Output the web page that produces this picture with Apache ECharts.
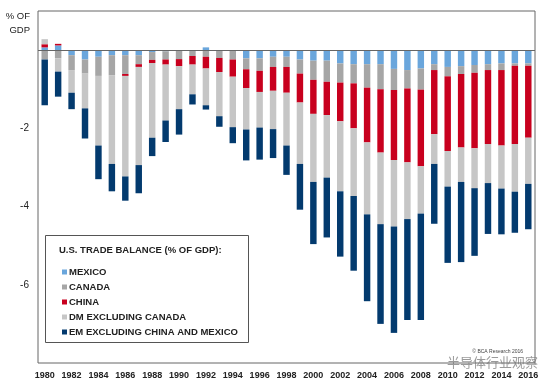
<!DOCTYPE html>
<html><head><meta charset="utf-8">
<script src="https://cdn.jsdelivr.net/npm/echarts@6/dist/echarts.min.js"></script>
<style>html,body{margin:0;padding:0;background:#fff}#c{width:554px;height:388px}</style>
</head><body><div id="c"></div>
<script>
var years = [];
for (var y = 1980; y <= 2016; y++) years.push(String(y));
var mexico = [0.07, 0.12, -0.13, -0.24, -0.17, -0.13, -0.13, -0.13, -0.05, -0.03, -0.02, 0, 0.07, -0.02, -0.02, -0.21, -0.21, -0.17, -0.17, -0.24, -0.27, -0.27, -0.34, -0.36, -0.36, -0.36, -0.48, -0.51, -0.47, -0.36, -0.43, -0.41, -0.38, -0.36, -0.34, -0.34, -0.34];
var canada = [-0.24, -0.21, -0.38, -0.36, -0.49, -0.51, -0.48, -0.23, -0.20, -0.21, -0.21, -0.15, -0.17, -0.18, -0.22, -0.28, -0.32, -0.26, -0.26, -0.36, -0.49, -0.54, -0.49, -0.49, -0.60, -0.64, -0.54, -0.47, -0.54, -0.15, -0.24, -0.20, -0.20, -0.15, -0.17, -0.06, -0.06];
var china = [0.08, 0.04, 0, 0, 0, 0, -0.05, -0.07, -0.08, -0.13, -0.18, -0.22, -0.30, -0.36, -0.44, -0.48, -0.54, -0.61, -0.66, -0.74, -0.87, -0.85, -0.99, -1.15, -1.40, -1.62, -1.79, -1.89, -1.96, -1.64, -1.91, -1.88, -1.93, -1.89, -1.93, -2.00, -1.84];
var dmExCanada = [0.13, -0.34, -0.58, -0.89, -1.78, -2.27, -2.57, -2.51, -1.91, -1.43, -1.10, -0.76, -0.94, -1.13, -1.29, -1.06, -0.91, -0.98, -1.35, -1.57, -1.74, -1.60, -1.79, -1.73, -1.84, -1.83, -1.70, -1.45, -1.21, -0.76, -0.91, -0.88, -1.02, -1.00, -1.10, -1.22, -1.18];
var emExChinaMexico = [-1.17, -0.64, -0.42, -0.77, -0.86, -0.70, -0.62, -0.72, -0.47, -0.55, -0.65, -0.26, -0.11, -0.27, -0.41, -0.79, -0.82, -0.74, -0.75, -1.17, -1.59, -1.53, -1.67, -1.91, -2.22, -2.55, -2.72, -2.58, -2.72, -1.53, -1.95, -2.05, -1.73, -1.30, -1.17, -1.05, -1.16];
var seriesNames = ['MEXICO', 'CANADA', 'CHINA', 'DM EXCLUDING CANADA', 'EM EXCLUDING CHINA AND MEXICO'];
var yTickLabels = [-2, -4, -6];

var colors = ['#6aa6dc', '#a6a6a6', '#c8001e', '#c6c6c6', '#033a6e'];
var dataSets = [mexico, canada, china, dmExCanada, emExChinaMexico];
var FONT = '"Liberation Sans", Arial, sans-serif';

var series = dataSets.map(function (d, i) {
  var s = {
    name: seriesNames[i], type: 'bar', stack: 'tb', data: d,
    barWidth: '48%', itemStyle: { color: colors[i] }, silent: true
  };
  if (i === 0) {
    s.markLine = {
      silent: true, symbol: 'none', label: { show: false },
      lineStyle: { color: '#666', width: 1, type: 'solid' },
      data: [{ yAxis: 0 }], animation: false
    };
  }
  return s;
});

var chart = echarts.init(document.getElementById('c'), null, { renderer: 'canvas' });
chart.setOption({
  animation: false,
  color: colors,
  grid: { left: 38, right: 19, top: 11, bottom: 25, show: true, borderColor: '#666', borderWidth: 1, backgroundColor: 'transparent' },
  xAxis: {
    type: 'category', data: years,
    axisLine: { show: false }, axisTick: { show: false },
    axisLabel: { interval: 1, color: '#222', fontFamily: FONT, fontWeight: 'bold', fontSize: 9, margin: 8 }
  },
  yAxis: {
    type: 'value', min: -8, max: 1, interval: 2,
    axisLine: { show: false }, axisTick: { show: false }, splitLine: { show: false },
    axisLabel: {
      color: '#222', fontFamily: FONT, fontSize: 10, margin: 9,
      formatter: function (v) { return yTickLabels.indexOf(v) >= 0 ? String(v) : ''; }
    }
  },
  legend: {
    orient: 'vertical', left: 57, top: 261,
    itemWidth: 5, itemHeight: 5, itemGap: 3, icon: 'rect',
    data: seriesNames,
    textStyle: { color: '#222', fontFamily: FONT, fontWeight: 'bold', fontSize: 9.5, lineHeight: 12, padding: [0, 0, 0, -3] },
    selectedMode: false, z: 10
  },
  graphic: [
    { type: 'rect', shape: { x: 45.5, y: 235.5, width: 203, height: 107 }, style: { fill: '#fff', stroke: '#555', lineWidth: 1 }, z: 5 },
    { type: 'text', x: 59, y: 250, style: { text: 'U.S. TRADE BALANCE (% OF GDP):', fill: '#222', font: 'bold 9.5px ' + FONT, textVerticalAlign: 'middle' }, z: 10 },
    { type: 'text', x: 30, y: 16.5, style: { text: '% OF', fill: '#222', font: '9.5px ' + FONT, textAlign: 'right', textVerticalAlign: 'middle' } },
    { type: 'text', x: 30, y: 30, style: { text: 'GDP', fill: '#222', font: '9.5px ' + FONT, textAlign: 'right', textVerticalAlign: 'middle' } },
    { type: 'text', x: 523, y: 352, style: { text: '© BCA Research 2016', fill: '#444', font: '5px ' + FONT, textAlign: 'right', textVerticalAlign: 'middle' } },
    { type: 'text', x: 447, y: 362, style: { text: '半导体行业观察', fill: 'rgba(120,120,120,0.75)', font: '13px "Noto Sans CJK SC"', textVerticalAlign: 'middle' }, z: 20 }
  ],
  series: series
});
</script></body></html>
